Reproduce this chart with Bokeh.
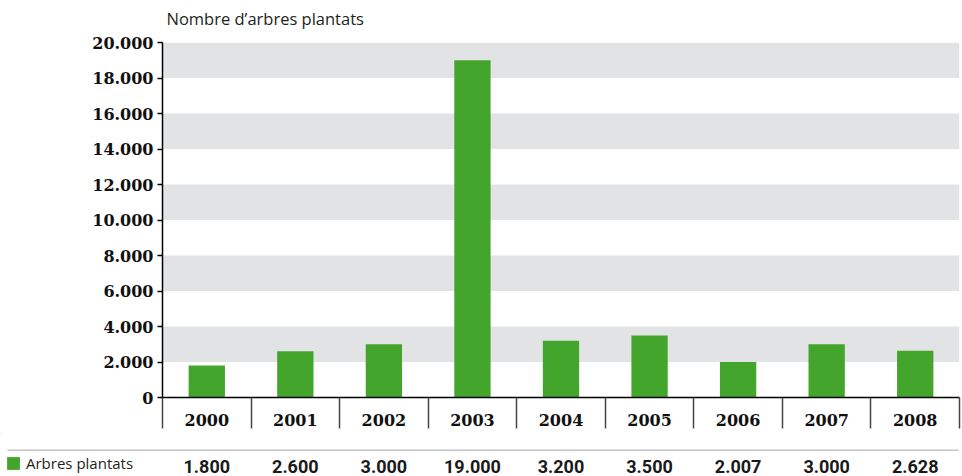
from bokeh.plotting import figure
from bokeh.models import (ColumnDataSource, FixedTicker, LinearAxis, Range1d,
                          Legend, LegendItem, BoxAnnotation)
from bokeh.layouts import column
from bokeh.core.properties import value
from bokeh.embed import file_html
from bokeh.resources import INLINE

# ---- data ----
years = ["2000", "2001", "2002", "2003", "2004", "2005", "2006", "2007", "2008"]
trees = [1800, 2600, 3000, 19000, 3200, 3500, 2007, 3000, 2628]
y_ticks = [0, 2000, 4000, 6000, 8000, 10000, 12000, 14000, 16000, 18000, 20000]
series_name = "Arbres plantats"
title_text = "Nombre d\u2019arbres plantats"

def fmt(v):
    return f"{v:,}".replace(",", ".")

GREEN = "#44a52c"
BAND = "#e2e3e5"
SERIF = "DejaVu Serif"
SANS = "Open Sans"
NUMS = "Roboto"
W = 962
H_HEAD = 30
H_MAIN = 432 - H_HEAD
H_STRIP = 476 - 432
FRAME_L, FRAME_R = 162, 959

n = len(years)
centers = [i + 0.5 for i in range(n)]
dividers = list(range(n + 1))

src = ColumnDataSource(dict(x=centers, top=trees, year=years,
                            label=[fmt(v) for v in trees]))

# ---- header strip with the chart title ----
head = figure(width=W, height=H_HEAD, output_backend="svg", toolbar_location=None,
              x_range=Range1d(0, W), y_range=Range1d(H_HEAD, 0),
              min_border=0, x_axis_location=None, y_axis_location=None)
head.frame_align = False
head.outline_line_color = None
head.grid.visible = False
head.background_fill_color = "white"
head.border_fill_color = "white"
head.text(x=[FRAME_L + 4], y=[17.5], text=[title_text], text_font=value(SANS),
          text_font_size="16.5px", text_color="#231f20",
          text_align="left", text_baseline="middle")

# ---- main chart ----
p_main = figure(width=W, height=H_MAIN, output_backend="svg", toolbar_location=None,
                x_range=Range1d(0, n), y_range=Range1d(0, 20000),
                min_border_left=FRAME_L, min_border_right=W - FRAME_R,
                min_border_top=42 - H_HEAD, min_border_bottom=35,
                x_axis_location=None, y_axis_location=None)
p_main.frame_align = False
p_main.outline_line_color = None
p_main.background_fill_color = "white"
p_main.border_fill_color = "white"

# grid bands
p_main.xgrid.visible = False
p_main.ygrid.ticker = FixedTicker(ticks=y_ticks)
p_main.ygrid.grid_line_color = None
p_main.ygrid.band_fill_color = BAND
p_main.ygrid.band_fill_alpha = 1.0

bars = p_main.vbar(x="x", top="top", width=0.41, source=src, fill_color=GREEN,
                   line_color=None)

# y axis
yax = LinearAxis(ticker=FixedTicker(ticks=y_ticks))
yax.major_label_overrides = {t: fmt(t) for t in y_ticks}
yax.axis_line_color = "black"
yax.axis_line_width = 1.5
yax.major_tick_out = 5
yax.major_tick_in = 0
yax.major_tick_line_width = 1.5
yax.minor_tick_line_color = None
yax.major_label_standoff = 4
yax.major_label_text_font = SERIF
yax.major_label_text_font_style = "bold"
yax.major_label_text_font_size = "16px"
yax.major_label_text_color = "#111111"
p_main.add_layout(yax, "left")

# x axis with year labels, dividers as minor ticks
xax = LinearAxis(ticker=FixedTicker(ticks=centers, minor_ticks=dividers))
xax.major_label_overrides = {c: y for c, y in zip(centers, years)}
xax.axis_line_color = "black"
xax.axis_line_width = 1.5
xax.major_tick_line_color = None
xax.major_tick_out = 0
xax.major_tick_in = 0
xax.minor_tick_out = 31
xax.minor_tick_in = 0
xax.minor_tick_line_color = "#444444"
xax.minor_tick_line_width = 1.5
xax.major_label_standoff = -15
xax.major_label_text_font = SERIF
xax.major_label_text_font_style = "bold"
xax.major_label_text_font_size = "16px"
xax.major_label_text_color = "#111111"
p_main.add_layout(xax, "below")

# ---- table strip below ----
px = (FRAME_R - FRAME_L) / n
x_lo = -FRAME_L / px
strip = figure(width=W, height=H_STRIP, output_backend="svg", toolbar_location=None,
               x_range=Range1d(x_lo, n + (W - FRAME_R) / px),
               y_range=Range1d(H_STRIP, 0),
               min_border=0, x_axis_location=None, y_axis_location=None)
strip.frame_align = False
strip.outline_line_color = None
strip.grid.visible = False
strip.background_fill_color = "white"
strip.border_fill_color = "white"

sep = BoxAnnotation(left=7, right=958, top=17, bottom=18.6,
                    left_units="screen", right_units="screen",
                    fill_color="#c4c4c4", fill_alpha=1.0, line_color=None)
strip.add_layout(sep)

strip.text(x="x", y=34, text="label", source=src, text_font=value(NUMS),
           text_font_style="bold", text_font_size="18px", text_color="#1a1a1a",
           text_align="center", text_baseline="middle")

# legend key: a swatch renderer kept outside the visible x range
key_src = ColumnDataSource(dict(x=[x_lo - 10], top=[1]))
key = strip.vbar(x="x", top="top", width=0.41, source=key_src,
                 fill_color=GREEN, line_color=None)
legend = Legend(items=[LegendItem(label=series_name, renderers=[key], index=0)],
                location=(5, 3), orientation="horizontal")
legend.border_line_color = None
legend.background_fill_alpha = 0
legend.padding = 0
legend.margin = 0
legend.glyph_width = 16
legend.glyph_height = 16
legend.label_height = 16
legend.label_standoff = 5
legend.label_text_font = SANS
legend.label_text_font_size = "15px"
legend.label_text_color = "#231f20"
strip.add_layout(legend, "center")

p = column(head, p_main, strip, spacing=0)
open("out.html", "w").write(file_html(p, INLINE))
